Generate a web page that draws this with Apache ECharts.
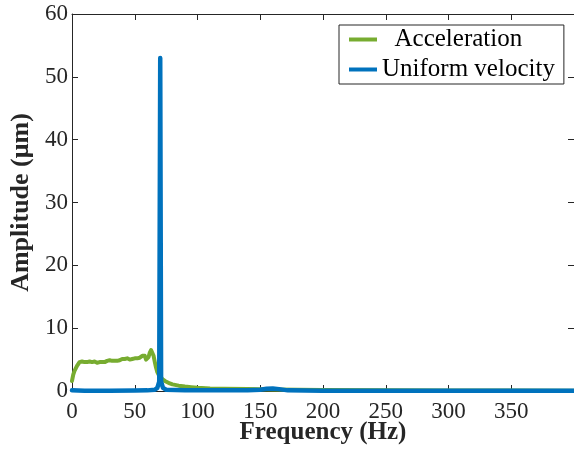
<!DOCTYPE html>
<html>
<head>
<meta charset="utf-8">
<script src="https://cdn.jsdelivr.net/npm/echarts@6/dist/echarts.min.js"></script>
<style>
html,body{margin:0;padding:0;background:#fff;}
#c{width:574px;height:449px;}
</style>
</head>
<body>
<div id="c"></div>
<script>
// ---- Data ----
const seriesNames = ['Acceleration', 'Uniform velocity'];
const xTicks = [0, 50, 100, 150, 200, 250, 300, 350];
const yTicks = [0, 10, 20, 30, 40, 50, 60];

const accFreq = [0,1,2,3,4,5,6,7,8,9,10,11,12,13,14,15,16,17,18,19,20,21,22,23,24,25,26,27,28,29,30,31,32,33,34,35,36,37,38,39,40,41,42,43,44,45,46,47,48,49,50,51,52,53,54,55,56,57,58,59,60,61,62,63,64,65,66,67,68,69,70,72,74,76,78,80,85,90,95,100,110,120,140,160,180,200,250,300,350,400];
const accAmp  = [1.6,2.6,3.2,3.6,4.0,4.3,4.6,4.8,4.7,4.4,4.6,4.4,4.6,4.5,4.7,4.5,4.6,4.5,4.7,4.6,4.5,4.7,4.6,4.7,4.6,4.8,4.6,4.7,4.8,4.7,4.9,4.7,4.8,4.9,4.8,5.0,4.8,5.0,4.9,5.0,5.1,4.9,5.1,5.0,5.2,5.1,5.0,5.2,5.1,5.3,5.2,5.3,5.2,5.4,5.3,5.5,5.6,5.8,5.6,5.0,4.8,5.4,6.1,6.5,6.4,5.6,4.6,3.7,3.0,2.6,2.3,1.9,1.6,1.4,1.2,1.05,0.85,0.7,0.6,0.5,0.4,0.35,0.3,0.25,0.2,0.15,0.1,0.08,0.06,0.05];

const uniFreq = [0,10,30,50,60,66,68,69.5,70.3,71,72.5,75,90,140,150,155,160,165,172,200,400];
const uniAmp  = [0.1,0.05,0.05,0.08,0.1,0.2,0.5,1.5,53,1.5,0.5,0.2,0.1,0.1,0.2,0.35,0.4,0.3,0.1,0.05,0.05];

const xMin = 0, xMax = 400, xInterval = 50;
const yMin = 0, yMax = 60, yInterval = 10;

function pairs(xs, ys){ return xs.map((x,i)=>[x, ys[i]]); }

const axisColor = '#262626';
const serif = "'Liberation Serif', 'Times New Roman', Times, serif";

const chart = echarts.init(document.getElementById('c'), null, {renderer:'canvas'});
chart.setOption({
  animation: false,
  backgroundColor: '#fff',
  textStyle: {fontFamily: serif},
  grid: {left: 72, top: 14, right: 0, bottom: 58, containLabel: false, outerBoundsMode: 'none'},
  legend: {
    data: seriesNames,
    orient: 'vertical',
    left: 339, top: 25,
    padding: [2, 9, 2, 10],
    itemGap: 5,
    itemWidth: 28, itemHeight: 4,
    itemStyle: {borderWidth: 0},
    icon: 'rect',
    backgroundColor: '#fff',
    borderColor: axisColor, borderWidth: 1,
    textStyle: {fontFamily: serif, fontSize: 25, color: '#000', lineHeight: 25},
    formatter: function(n){ return n === 'Acceleration' ? '  ' + n : n; }
  },
  xAxis: [{
    type: 'value', min: xMin, max: xMax, interval: xInterval,
    name: 'Frequency (Hz)', nameLocation: 'middle', nameGap: 29, nameMoveOverlap: false,
    nameTextStyle: {fontFamily: serif, fontSize: 25, fontWeight: 'bold', color: '#262626'},
    axisLine: {show: true, onZero: false, lineStyle: {color: axisColor, width: 1}},
    axisTick: {show: true, inside: true, length: 6, lineStyle: {color: axisColor}},
    axisLabel: {fontFamily: serif, fontSize: 23, color: '#262626', margin: 9, showMaxLabel: false,
      formatter: function(v){ return xTicks.indexOf(v) >= 0 ? String(v) : ''; }},
    splitLine: {show: false}
  },{
    type: 'value', min: xMin, max: xMax, interval: xInterval, position: 'top',
    axisLine: {show: true, onZero: false, lineStyle: {color: axisColor, width: 1}},
    axisTick: {show: true, inside: true, length: 6, lineStyle: {color: axisColor}},
    axisLabel: {show: false}, splitLine: {show: false}
  }],
  yAxis: [{
    type: 'value', min: yMin, max: yMax, interval: yInterval,
    name: 'Amplitude (μm)', nameLocation: 'middle', nameGap: 38, nameMoveOverlap: false,
    nameTextStyle: {fontFamily: serif, fontSize: 26, fontWeight: 'bold', color: '#262626'},
    axisLine: {show: true, onZero: false, lineStyle: {color: axisColor, width: 1}},
    axisTick: {show: true, inside: true, length: 6, lineStyle: {color: axisColor}},
    axisLabel: {fontFamily: serif, fontSize: 23, color: '#262626', margin: 4,
      formatter: function(v){ return yTicks.indexOf(v) >= 0 ? String(v) : ''; }},
    splitLine: {show: false}
  },{
    type: 'value', min: yMin, max: yMax, interval: yInterval, position: 'right',
    axisLine: {show: true, onZero: false, lineStyle: {color: axisColor, width: 1}},
    axisTick: {show: true, inside: true, length: 6, lineStyle: {color: axisColor}},
    axisLabel: {show: false}, splitLine: {show: false}
  }],
  series: [{
    name: seriesNames[0], type: 'line', xAxisIndex: 0, yAxisIndex: 0,
    data: pairs(accFreq, accAmp), showSymbol: false, symbol: 'none',
    color: '#77AC30',
    lineStyle: {color: '#77AC30', width: 4, join: 'round', cap: 'round'},
    z: 2
  },{
    name: seriesNames[1], type: 'line', xAxisIndex: 0, yAxisIndex: 0,
    data: pairs(uniFreq, uniAmp), showSymbol: false, symbol: 'none',
    color: '#0072BD',
    lineStyle: {color: '#0072BD', width: 4.5, join: 'round', cap: 'round'},
    z: 3
  }]
});
</script>
</body>
</html>
